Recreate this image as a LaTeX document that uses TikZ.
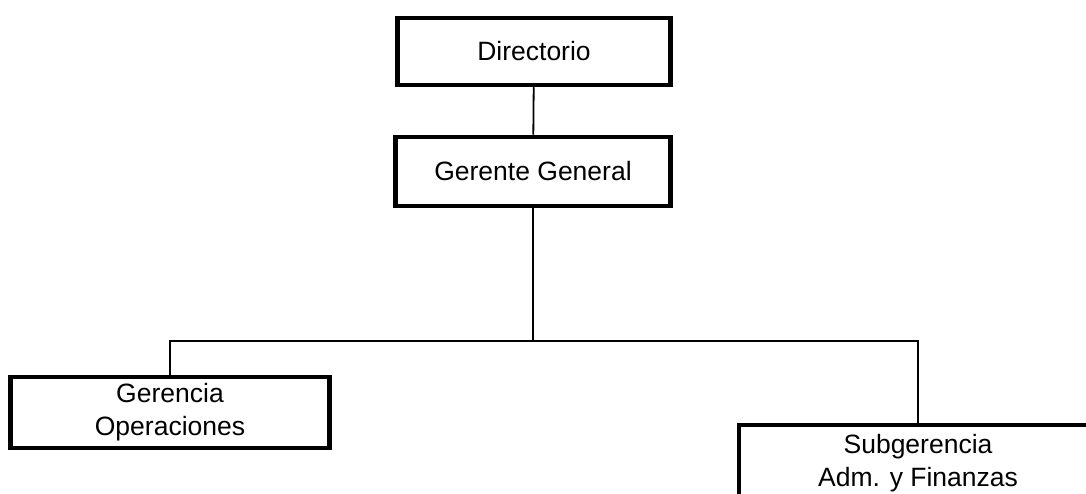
\documentclass[tikz,border=0pt]{standalone}
\usepackage{fontspec}
\setmainfont{Liberation Sans}

\begin{document}
\begin{tikzpicture}[x=1pt,y=-1pt,
box/.style = {draw, line width=4.5pt, align=center, inner sep=0pt,
  font=\fontsize{26.5}{33}\selectfont},
link/.style = {line width=1.8pt}]
\useasboundingbox (0,0) rectangle (1086,494);
\node[box, minimum width=273pt, minimum height=67pt] (dir) at (534,51.5) {Directorio};
\node[box, minimum width=275pt, minimum height=69pt] (gg) at (533,171.5) {Gerente General};
\node[box, minimum width=319pt, minimum height=71pt] (gop) at (170,412.5) {Gerencia\\Operaciones};
\node[box, minimum width=358pt, minimum height=76pt] (sub) at (918,463) {Subgerencia\\Adm. y Finanzas};
\coordinate (bar) at (533,341);
\draw[link] (dir) -- (gg);
\draw[link] (gg) -- (bar);
\draw[link] (gop.north) |- (bar) -| (sub.north);
\end{tikzpicture}
\end{document}
